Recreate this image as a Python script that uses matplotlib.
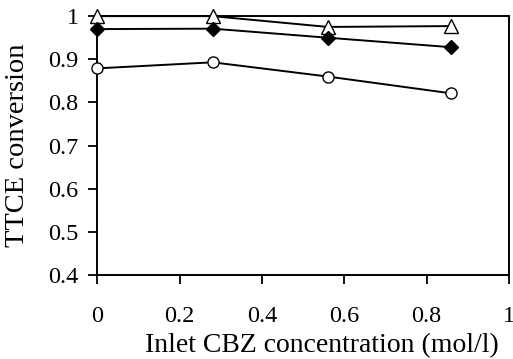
import numpy as np
import matplotlib
matplotlib.use('Agg')
import matplotlib.pyplot as plt

# inlet CBZ concentration (mol/l)
cbz = [0, 0.28, 0.56, 0.86]
# TTCE conversion for each series
conv_tri = [1.0, 1.0, 0.975, 0.977]
conv_dia = [0.970, 0.971, 0.950, 0.928]
conv_circ = [0.879, 0.893, 0.860, 0.821]

plt.rcParams['font.family'] = ['Liberation Serif', 'DejaVu Serif']

fig = plt.figure(figsize=(5.13, 3.59), dpi=100)
ax = fig.add_axes([0.190, 0.234, 0.802, 0.721])

ax.plot(cbz, conv_tri, '-', color='black', lw=1.4, marker='^', ms=10,
        mfc='white', mec='black', mew=1.0, clip_on=False, zorder=3)
ax.plot(cbz, conv_dia, '-', color='black', lw=1.4, marker='D', ms=7,
        mfc='black', mec='black', clip_on=False, zorder=3)
ax.plot(cbz, conv_circ, '-', color='black', lw=1.4, marker='o', ms=8,
        mfc='white', mec='black', mew=1.0, clip_on=False, zorder=3)

ax.set_xlim(0, 1)
ax.set_ylim(0.4, 1)
ax.set_xticks([0, 0.2, 0.4, 0.6, 0.8, 1])
ax.set_xticklabels(['0', '0.2', '0.4', '0.6', '0.8', '1'])
ax.set_yticks([0.4, 0.5, 0.6, 0.7, 0.8, 0.9, 1])
ax.set_yticklabels(['0.4', '0.5', '0.6', '0.7', '0.8', '0.9', '1'])
ax.tick_params(axis='x', direction='out', length=6.5, width=1.3, pad=16, labelsize=17.5)
ax.tick_params(axis='y', direction='out', length=6.5, width=1.3, pad=7, labelsize=17.5)
for s in ax.spines.values():
    s.set_linewidth(1.4)

ax.set_xlabel('Inlet CBZ concentration (mol/l)', fontsize=20)
ax.set_ylabel('TTCE conversion', fontsize=20.5)
ax.xaxis.set_label_coords(0.545, -0.226)
ax.yaxis.set_label_coords(-0.165, 0.5)

fig.savefig('out.png', dpi=100)
